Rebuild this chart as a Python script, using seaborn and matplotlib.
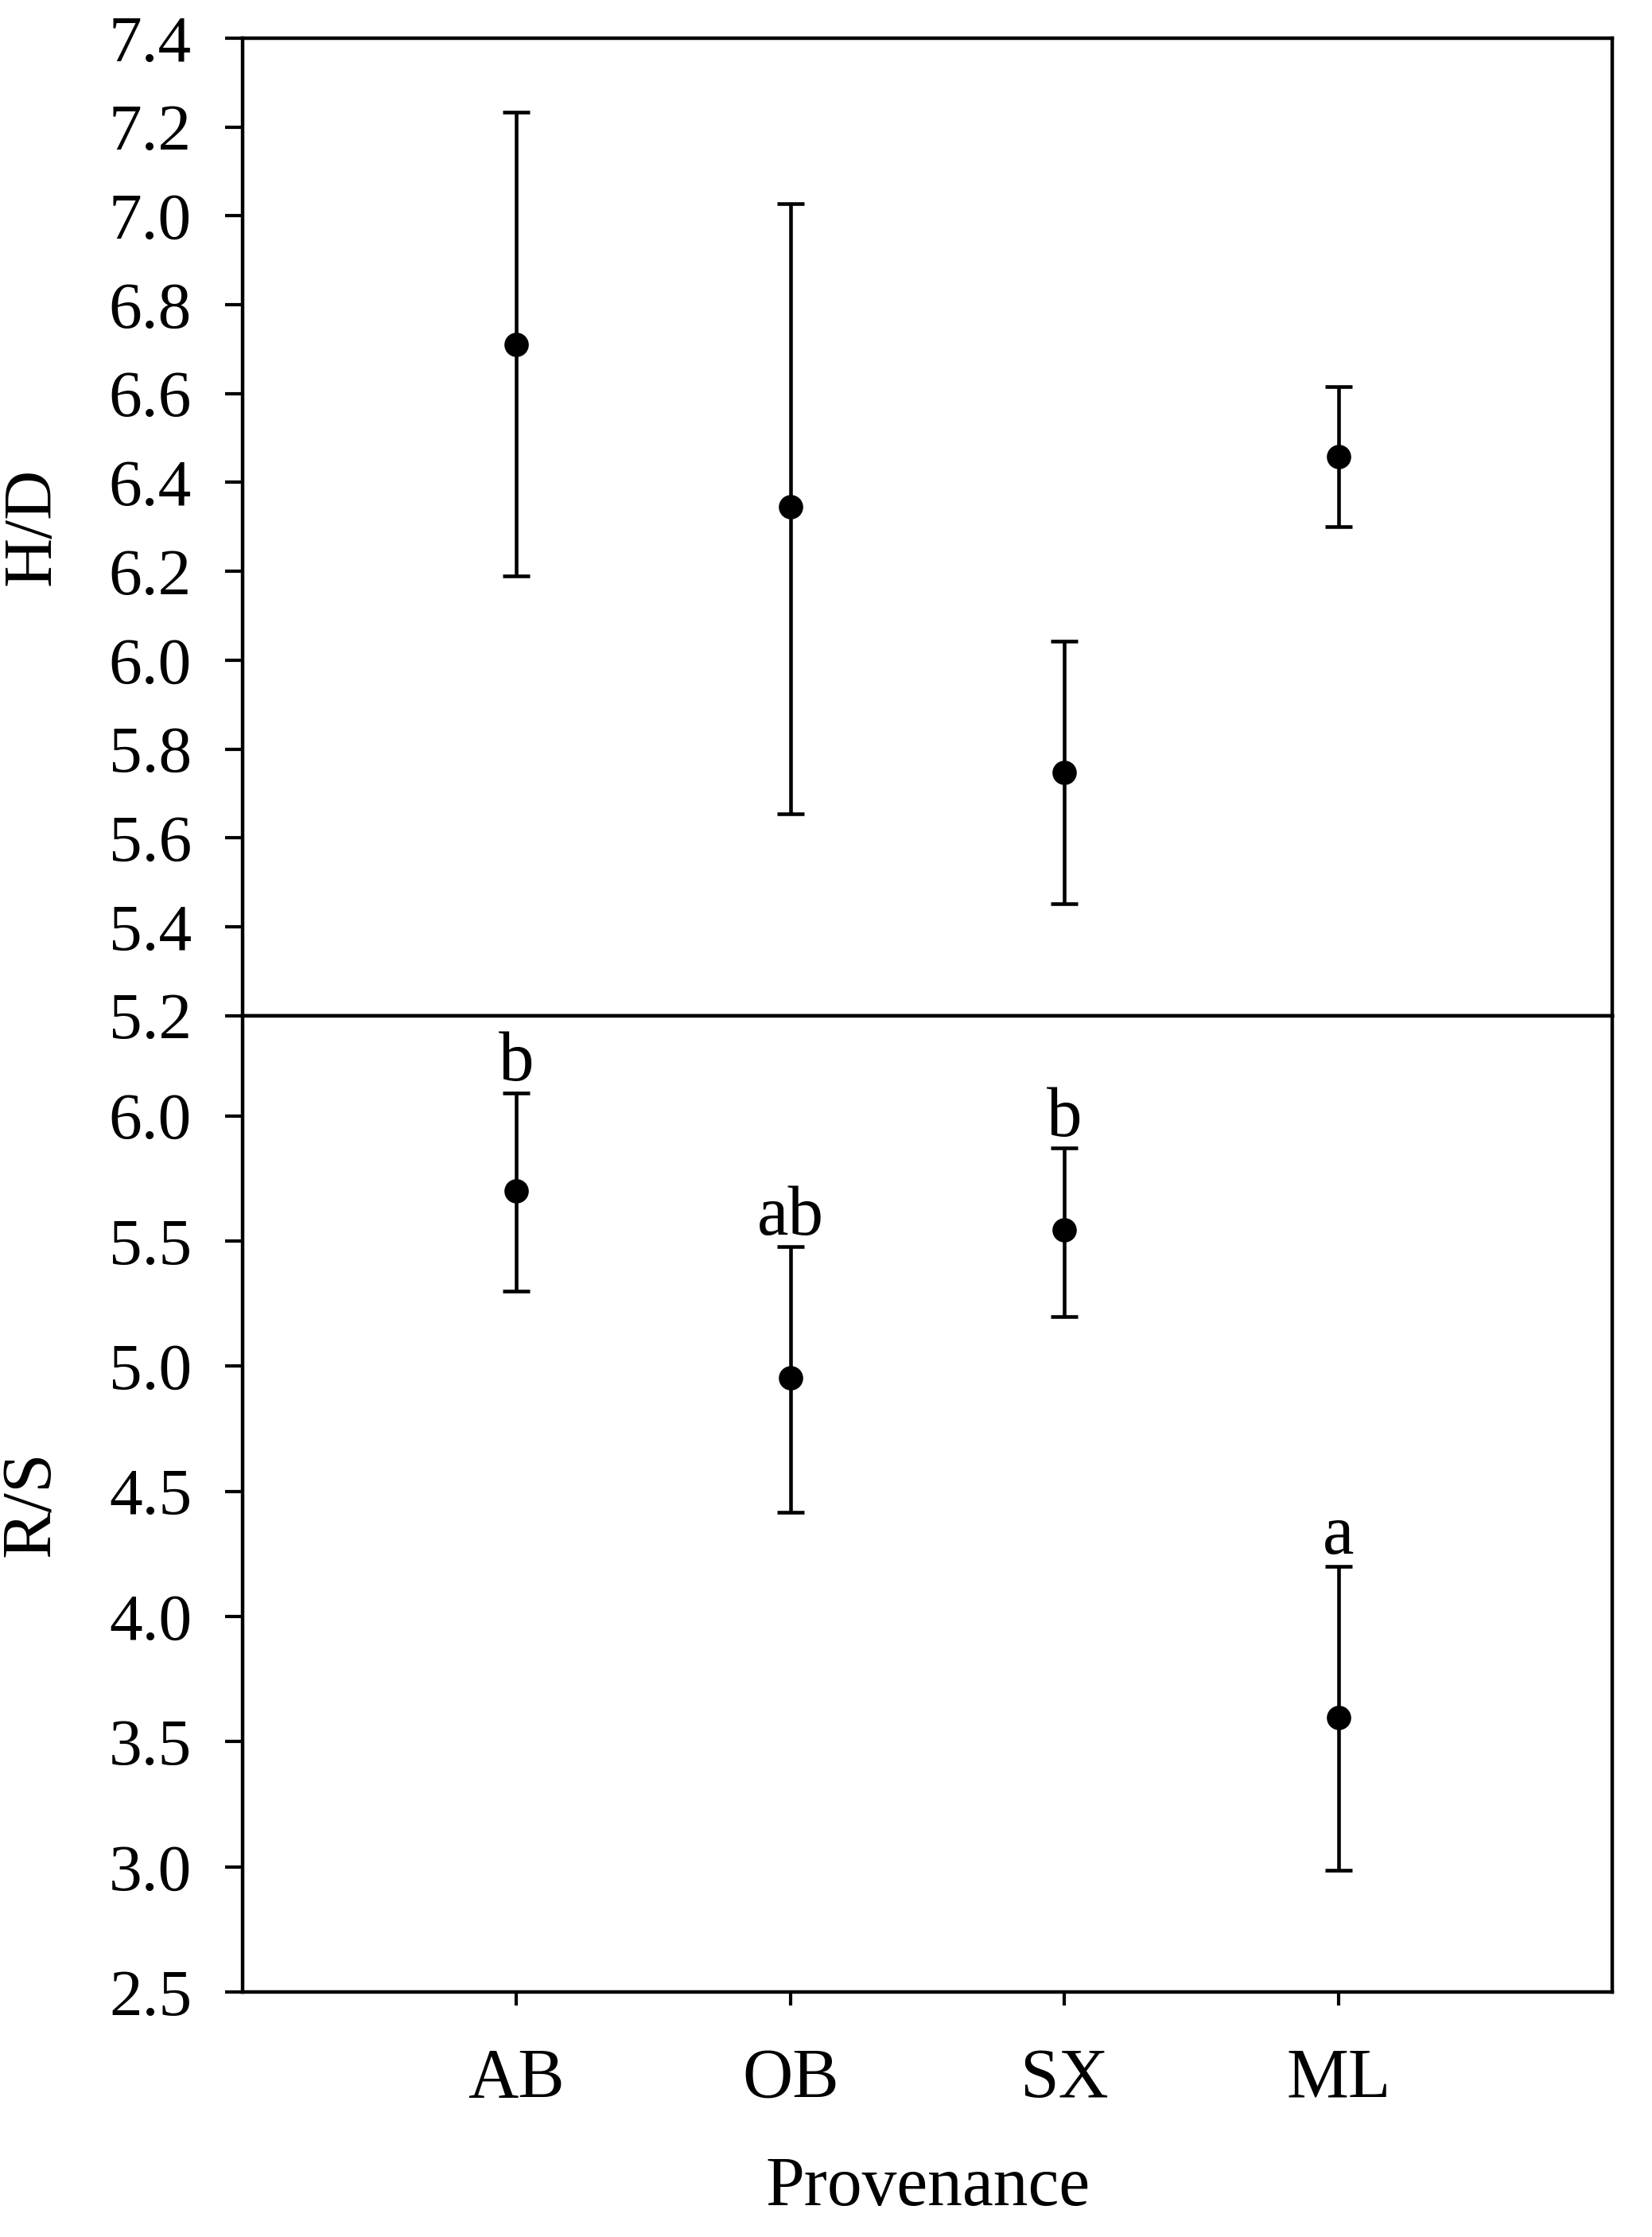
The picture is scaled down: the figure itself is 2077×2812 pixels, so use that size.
import seaborn as sns
import matplotlib.pyplot as plt
import pandas as pd

# Provenance groups
provenance = ['AB', 'OB', 'SX', 'ML']

# H/D means and error bar limits
hd_mean = [6.71, 6.345, 5.747, 6.458]
hd_upper = [7.233, 7.027, 6.043, 6.615]
hd_lower = [6.19, 5.654, 5.451, 6.300]

# R/S means and error bar limits
rs_mean = [5.70, 4.952, 5.545, 3.595]
rs_upper = [6.092, 5.476, 5.87, 4.20]
rs_lower = [5.30, 4.416, 5.197, 2.985]
rs_letters = ['b', 'ab', 'b', 'a']

hd_ticks = [5.2, 5.4, 5.6, 5.8, 6.0, 6.2, 6.4, 6.6, 6.8, 7.0, 7.2, 7.4]
rs_ticks = [2.5, 3.0, 3.5, 4.0, 4.5, 5.0, 5.5, 6.0]

sns.set_style('ticks')
plt.rcParams['font.family'] = ['Liberation Serif', 'DejaVu Serif']
plt.rcParams['text.color'] = 'black'
plt.rcParams['axes.labelcolor'] = 'black'

hd = pd.DataFrame({'prov': provenance, 'val': hd_mean})
rs = pd.DataFrame({'prov': provenance, 'val': rs_mean})

fig = plt.figure(figsize=(20.77, 28.12), dpi=100)
ax1 = fig.add_axes([0.1468, 0.546, 0.8292, 0.437])
ax2 = fig.add_axes([0.1468, 0.1095, 0.8292, 0.4365])


def draw(ax, df, lower, upper):
    sns.pointplot(data=df, x='prov', y='val', order=provenance, errorbar=None,
                  linestyle='none', color='black', markers='o', markersize=20,
                  ax=ax, zorder=3)
    pos = range(len(provenance))
    vals = df['val'].values
    ax.errorbar(pos, vals,
                yerr=[[v - l for v, l in zip(vals, lower)],
                      [u - v for v, u in zip(vals, upper)]],
                fmt='none', ecolor='black', elinewidth=3.3, capsize=12,
                capthick=3.3, zorder=2)
    ax.set_xlim(-1, 4)
    for s in ax.spines.values():
        s.set_visible(True)
        s.set_linewidth(3.2)
        s.set_color('black')
    ax.tick_params(axis='both', direction='out', width=3,
                   color='black', labelcolor='black')
    ax.tick_params(axis='y', labelsize=60, pad=30, length=16)
    ax.tick_params(axis='x', labelsize=63, pad=38, length=12)


draw(ax1, hd, hd_lower, hd_upper)
ax1.set_ylim(5.2, 7.4)
ax1.set_yticks(hd_ticks)
ax1.set_yticklabels([f'{t:.1f}' for t in hd_ticks])
ax1.set_xticklabels([])
ax1.set_xlabel('')
ax1.set_ylabel('H/D', fontsize=62)

draw(ax2, rs, rs_lower, rs_upper)
ax2.set_ylim(2.5, 6.4)
ax2.set_yticks(rs_ticks)
ax2.set_yticklabels([f'{t:.1f}' for t in rs_ticks])
ax2.set_xlabel('Provenance', fontsize=63, labelpad=40)
ax2.set_ylabel('R/S', fontsize=64)
for i, (u, lab) in enumerate(zip(rs_upper, rs_letters)):
    ax2.text(i, u + 0.05, lab, ha='center', va='baseline', fontsize=64)

ax1.yaxis.set_label_coords(-0.13, 0.5)
ax2.yaxis.set_label_coords(-0.13, 0.5)

fig.savefig('out.png', dpi=100)
